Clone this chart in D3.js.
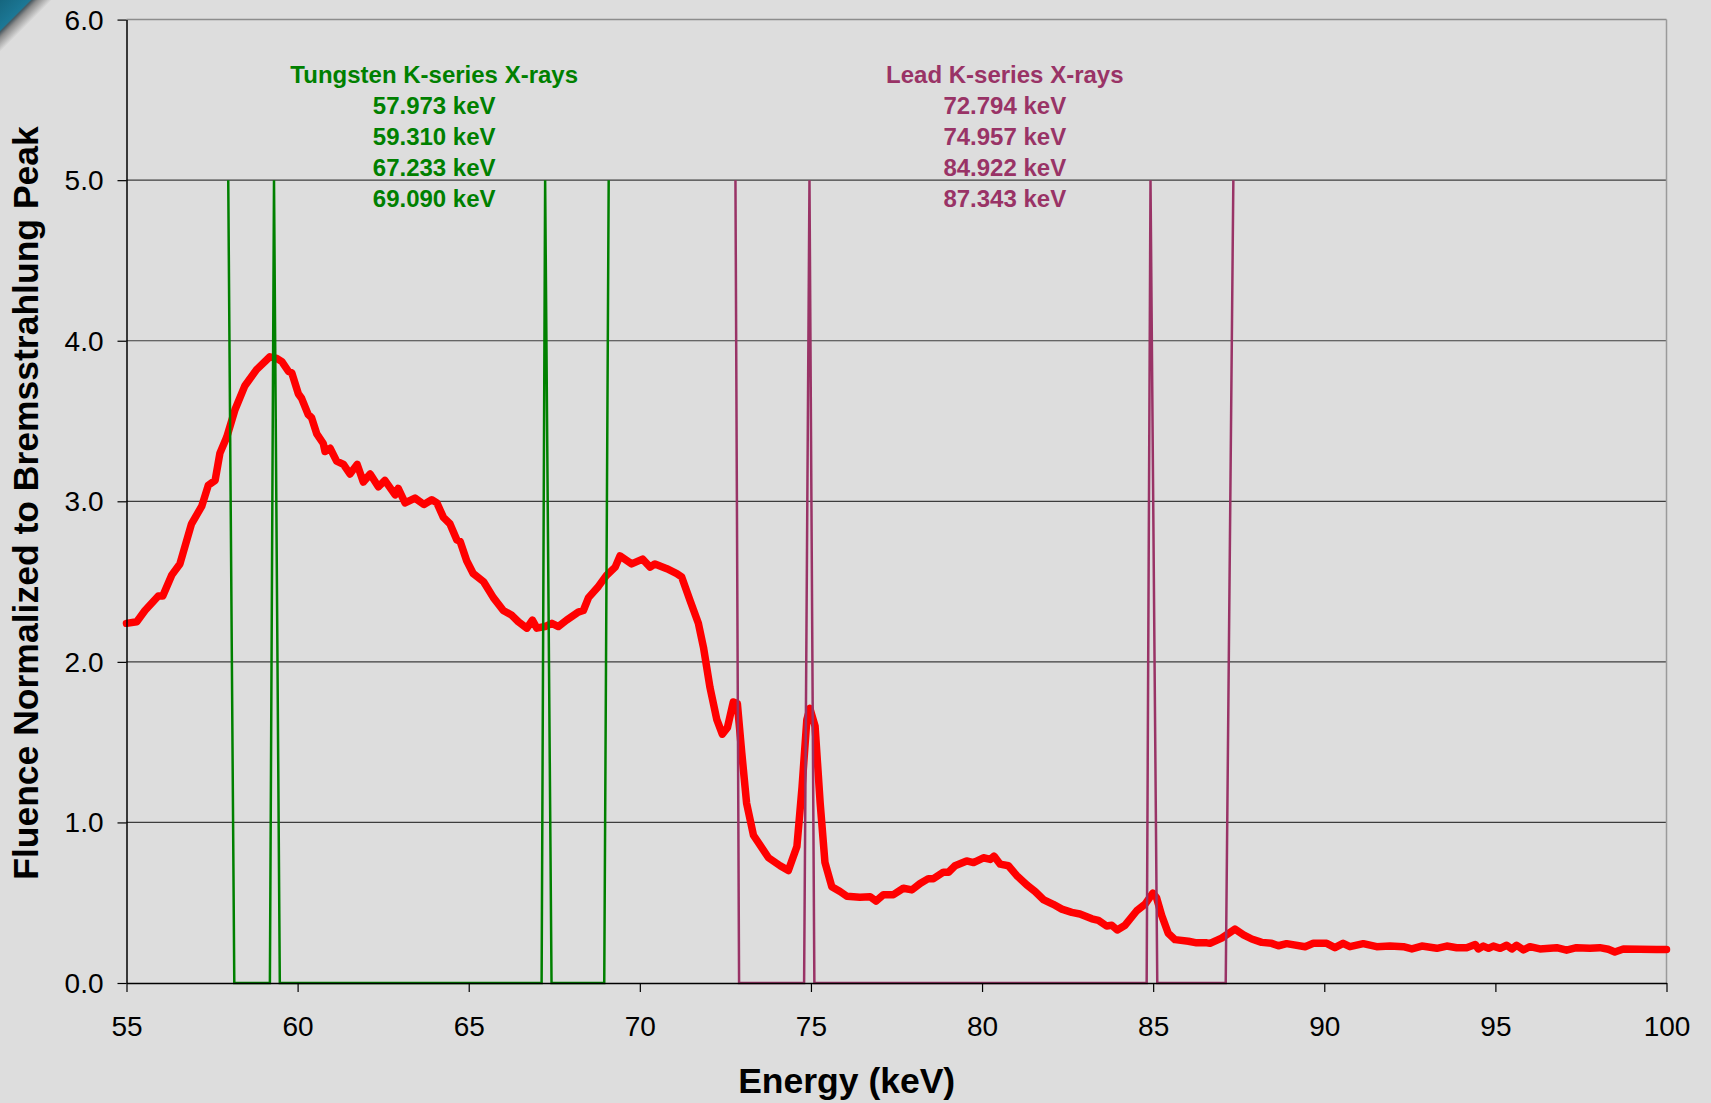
<!DOCTYPE html>
<html>
<head>
<meta charset="utf-8">
<script src="https://cdn.jsdelivr.net/npm/d3@7"></script>
<style>
  html, body { margin: 0; padding: 0; background: #dddddd; }
  svg { display: block; }
  text { font-family: "Liberation Sans", Arial, sans-serif; }
</style>
</head>
<body>
<svg id="chart" width="1711" height="1103"></svg>
<script>
// Measured spectrum: photon energy (keV) and fluence normalized to the bremsstrahlung peak
const energy = [
  55.0, 55.3, 55.54, 55.93, 56.06, 56.32, 56.56, 56.9, 57.2, 57.39, 57.59, 57.73, 57.93,
  58.17, 58.46, 58.8, 59.19, 59.39, 59.54, 59.73, 59.83, 60.02, 60.12, 60.31, 60.41,
  60.56, 60.75, 60.8, 60.95, 61.14, 61.34, 61.53, 61.74, 61.92, 62.12, 62.36, 62.55,
  62.85, 62.94, 63.14, 63.43, 63.69, 63.92, 64.07, 64.26, 64.45, 64.65, 64.75, 64.94,
  65.13, 65.43, 65.72, 66.01, 66.26, 66.45, 66.7, 66.86, 66.99, 67.23, 67.43, 67.62,
  67.86, 68.2, 68.35, 68.5, 68.79, 69.03, 69.28, 69.42, 69.76, 70.08, 70.3, 70.44,
  70.79, 71.08, 71.22, 71.47, 71.71, 71.86, 72.05, 72.25, 72.41, 72.56, 72.73, 72.85,
  72.98, 73.12, 73.32, 73.76, 74.1, 74.34, 74.59, 74.74, 74.88, 74.97, 75.12, 75.27,
  75.41, 75.61, 75.85, 76.05, 76.43, 76.73, 76.9, 77.12, 77.41, 77.7, 77.95, 78.19,
  78.43, 78.58, 78.87, 79.02, 79.21, 79.55, 79.75, 80.04, 80.24, 80.35, 80.53, 80.77,
  81.01, 81.31, 81.55, 81.79, 82.08, 82.33, 82.62, 82.86, 83.21, 83.4, 83.64, 83.79,
  83.95, 84.18, 84.52, 84.76, 84.99, 85.1, 85.25, 85.44, 85.64, 86.03, 86.27, 86.57,
  86.66, 87.0, 87.39, 87.64, 87.88, 88.17, 88.46, 88.66, 88.9, 89.44, 89.68, 90.07,
  90.31, 90.55, 90.75, 91.14, 91.53, 91.92, 92.31, 92.56, 92.85, 93.29, 93.58, 93.87,
  94.16, 94.41, 94.5, 94.65, 94.8, 94.94, 95.14, 95.33, 95.48, 95.62, 95.82, 96.01,
  96.3, 96.79, 97.08, 97.37, 97.76, 98.05, 98.3, 98.49, 98.74, 99.22, 99.71, 100.0
];
const fluence = [
  2.24, 2.25, 2.32, 2.41, 2.41, 2.54, 2.61, 2.86, 2.97, 3.10, 3.13, 3.30, 3.40,
  3.57, 3.72, 3.82, 3.90, 3.89, 3.87, 3.81, 3.80, 3.67, 3.64, 3.54, 3.52,
  3.42, 3.36, 3.31, 3.33, 3.25, 3.23, 3.17, 3.23, 3.12, 3.17, 3.09, 3.13,
  3.04, 3.08, 2.99, 3.02, 2.98, 3.01, 2.99, 2.90, 2.86, 2.76, 2.75, 2.63,
  2.55, 2.50, 2.40, 2.32, 2.29, 2.25, 2.21, 2.26, 2.21, 2.22, 2.24, 2.22,
  2.26, 2.31, 2.32, 2.40, 2.47, 2.54, 2.59, 2.66, 2.61, 2.64, 2.59, 2.61,
  2.58, 2.55, 2.53, 2.38, 2.24, 2.09, 1.84, 1.64, 1.55, 1.59, 1.75, 1.74,
  1.43, 1.12, 0.92, 0.78, 0.73, 0.70, 0.85, 1.22, 1.64, 1.71, 1.60, 1.12,
  0.75, 0.60, 0.57, 0.54, 0.534, 0.537, 0.51, 0.55, 0.55, 0.59, 0.58, 0.62,
  0.65, 0.65, 0.69, 0.69, 0.73, 0.76, 0.75, 0.78, 0.77, 0.79, 0.74, 0.73,
  0.67, 0.61, 0.57, 0.52, 0.49, 0.46, 0.44, 0.43, 0.40, 0.39, 0.355, 0.36,
  0.33, 0.36, 0.45, 0.49, 0.56, 0.53, 0.42, 0.31, 0.27, 0.26, 0.25, 0.25,
  0.247, 0.28, 0.336, 0.30, 0.274, 0.253, 0.247, 0.232, 0.245, 0.226, 0.247, 0.247,
  0.22, 0.247, 0.226, 0.245, 0.226, 0.23, 0.226, 0.212, 0.23, 0.216, 0.23, 0.22,
  0.22, 0.24, 0.212, 0.23, 0.216, 0.23, 0.216, 0.235, 0.212, 0.235, 0.206, 0.226,
  0.212, 0.22, 0.204, 0.22, 0.216, 0.22, 0.21, 0.193, 0.212, 0.21, 0.208, 0.208
];

// Characteristic K-series line markers (energy in keV, marker level)
const tungstenPeaks = [57.973, 59.310, 67.233, 69.090];
const tungstenEnergy = [57.973, 58.15, 59.19, 59.310, 59.48, 67.13, 67.233, 67.42, 68.96, 69.090];
const tungstenLevel  = [5, 0, 0, 5, 0, 0, 5, 0, 0, 5];
const leadPeaks = [72.794, 74.957, 84.922, 87.343];
const leadEnergy = [72.794, 72.90, 74.80, 74.957, 75.10, 84.81, 84.922, 85.12, 87.12, 87.343];
const leadLevel  = [5, 0, 0, 5, 0, 0, 5, 0, 0, 5];

// Axis ticks
const xTicks = [55, 60, 65, 70, 75, 80, 85, 90, 95, 100];
const yTicks = [0, 1, 2, 3, 4, 5, 6];

const svg = d3.select("#chart");
const W = 1711, H = 1103;
const plot = { left: 126.5, right: 1666.5, top: 19.6, bottom: 983 };

const x = d3.scaleLinear().domain([55, 100]).range([plot.left, plot.right]);
const y = d3.scaleLinear().domain([0, 6]).range([plot.bottom, plot.top]);

// page background
svg.append("rect").attr("width", W).attr("height", H).attr("fill", "#dddddd");

// decorative slide corner
const defs = svg.append("defs");
const cg = defs.append("linearGradient").attr("id", "corner")
  .attr("gradientUnits", "userSpaceOnUse")
  .attr("x1", 0).attr("y1", 0).attr("x2", 26).attr("y2", 26);
cg.append("stop").attr("offset", 0).attr("stop-color", "#15667f");
cg.append("stop").attr("offset", 0.58).attr("stop-color", "#1c7896");
cg.append("stop").attr("offset", 0.62).attr("stop-color", "#4a5a62");
cg.append("stop").attr("offset", 0.72).attr("stop-color", "#8a8a8a");
cg.append("stop").attr("offset", 1).attr("stop-color", "#dddddd");
svg.append("path").attr("d", "M0,0 L52,0 L0,52 Z").attr("fill", "url(#corner)");

// horizontal gridlines
svg.append("g")
  .selectAll("line")
  .data(yTicks.filter(t => t > 0 && t < 6))
  .join("line")
  .attr("x1", plot.left).attr("x2", plot.right)
  .attr("y1", d => y(d)).attr("y2", d => y(d))
  .attr("stroke", "#3c3c3c").attr("stroke-width", 1.2);

// plot frame (top and right)
svg.append("line")
  .attr("x1", plot.left).attr("x2", plot.right)
  .attr("y1", y(6)).attr("y2", y(6))
  .attr("stroke", "#8c8c8c").attr("stroke-width", 1.5);
svg.append("line")
  .attr("x1", plot.right).attr("x2", plot.right)
  .attr("y1", y(6)).attr("y2", y(0))
  .attr("stroke", "#9a9a9a").attr("stroke-width", 1.5);

// spectrum curve
const spectrum = energy.map((e, i) => [e, fluence[i]]);
const line = d3.line().x(d => x(d[0])).y(d => y(d[1]));
svg.append("path")
  .datum(spectrum)
  .attr("d", line)
  .attr("fill", "none")
  .attr("stroke", "#ff0000")
  .attr("stroke-width", 7.5)
  .attr("stroke-linejoin", "round")
  .attr("stroke-linecap", "round");

// characteristic line markers
const markers = [
  { e: tungstenEnergy, v: tungstenLevel, color: "#008000" },
  { e: leadEnergy, v: leadLevel, color: "#993366" }
];
markers.forEach(m => {
  svg.append("path")
    .datum(m.e.map((e, i) => [e, m.v[i]]))
    .attr("d", line)
    .attr("fill", "none")
    .attr("stroke", m.color)
    .attr("stroke-width", 2.5)
    .attr("stroke-linejoin", "miter");
});

// axes
const yAxis = d3.axisLeft(y).tickValues(yTicks).tickFormat(d3.format(".1f"))
  .tickSize(9).tickSizeOuter(0).tickPadding(14);
const gy = svg.append("g").attr("transform", `translate(${plot.left},0)`).call(yAxis);
gy.select(".domain").attr("stroke", "#000").attr("stroke-width", 1.5);
gy.selectAll(".tick line").attr("stroke", "#000").attr("stroke-width", 1.2);
gy.selectAll(".tick text")
  .attr("font-size", 28).attr("fill", "#000")
  .attr("font-family", "'Liberation Sans', Arial, sans-serif")
  .attr("dy", "0.34em");

const xAxis = d3.axisBottom(x).tickValues(xTicks).tickFormat(d3.format("d"))
  .tickSize(9).tickSizeOuter(0).tickPadding(24);
const gx = svg.append("g").attr("transform", `translate(0,${plot.bottom})`).call(xAxis);
gx.select(".domain").attr("stroke", "#000").attr("stroke-width", 1.5);
gx.selectAll(".tick line").attr("stroke", "#000").attr("stroke-width", 1.2);
gx.selectAll(".tick text")
  .attr("font-size", 28).attr("fill", "#000")
  .attr("font-family", "'Liberation Sans', Arial, sans-serif");

// axis titles
svg.append("text")
  .attr("x", 846.7).attr("y", 1093)
  .attr("text-anchor", "middle")
  .attr("font-size", 35.5).attr("font-weight", "bold").attr("fill", "#000")
  .text("Energy (keV)");
svg.append("text")
  .attr("transform", "translate(38,503) rotate(-90)")
  .attr("text-anchor", "middle")
  .attr("font-size", 35.5).attr("font-weight", "bold").attr("fill", "#000")
  .text("Fluence Normalized to Bremsstrahlung Peak");

// line annotations
const kev = d3.format(".3f");
const notes = [
  { cx: 434.2, title: "Tungsten K-series X-rays", peaks: tungstenPeaks, color: "#008000" },
  { cx: 1004.8, title: "Lead K-series X-rays", peaks: leadPeaks, color: "#993366" }
];
notes.forEach(n => {
  const g = svg.append("g").attr("fill", n.color)
    .attr("font-size", 24).attr("font-weight", "bold").attr("text-anchor", "middle");
  g.append("text").attr("x", n.cx).attr("y", 83.3).text(n.title);
  g.selectAll("text.peak").data(n.peaks).join("text")
    .attr("class", "peak")
    .attr("x", n.cx)
    .attr("y", (d, i) => 114.3 + i * 31)
    .text(d => `${kev(d)} keV`);
});
</script>
</body>
</html>
